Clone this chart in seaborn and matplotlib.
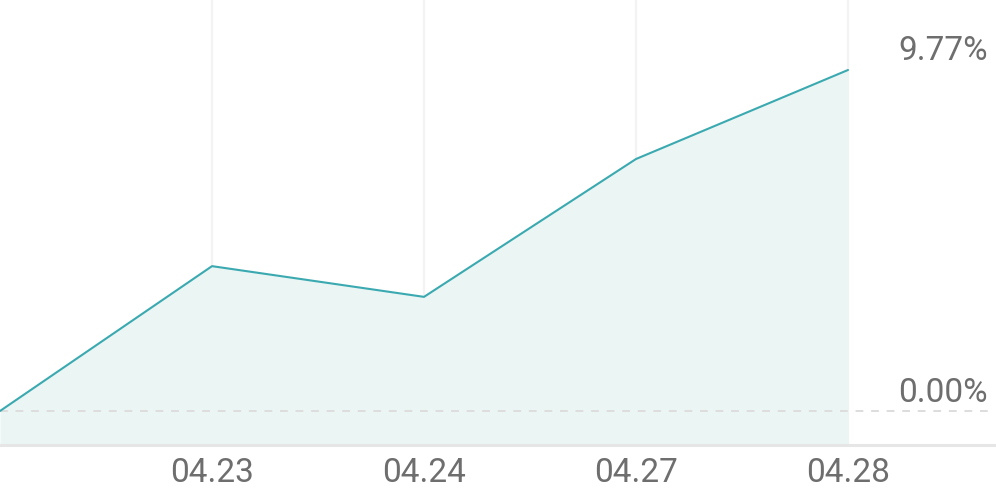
import matplotlib
matplotlib.use("Agg")
import matplotlib.pyplot as plt
import seaborn as sns
import pandas as pd
import numpy as np

dates = ["04.22", "04.23", "04.24", "04.27", "04.28"]
returns = [0.00, 4.15, 3.27, 7.22, 9.77]
tick_labels = ["04.23", "04.24", "04.27", "04.28"]
y_labels = ["9.77%", "0.00%"]

sns.set_theme(style="white")
plt.rcParams['font.family'] = ['Roboto', 'DejaVu Sans']

df = pd.DataFrame({"pos": np.arange(len(dates)), "date": dates, "ret": returns})

W, H = 996, 490
fig = plt.figure(figsize=(W / 100, H / 100), dpi=100)
ax = fig.add_axes([0, 0, 1, 1])

px_per_step = 212.0
px_per_pct = (411 - 70) / 9.77
ax.set_xlim(0, W / px_per_step)
ax.set_ylim(-(H - 411) / px_per_pct, 9.77 + 70 / px_per_pct)
base = -(445 - 411) / px_per_pct

# vertical grid lines
for p in df["pos"][1:]:
    ax.plot([p, p], [base, ax.get_ylim()[1]], color="#f3f3f3", lw=1.6, zorder=1)

ax.fill_between(df["pos"], df["ret"], base, color="#ebf5f4", zorder=2, lw=0)
sns.lineplot(data=df, x="pos", y="ret", ax=ax, color="#3aa9b0", lw=1.5, zorder=4)

# zero dashed line
ax.plot([0, 992 / px_per_step], [0, 0], color="#dddddd", lw=1.4,
        dashes=(4, 4), zorder=3)
# bottom axis line
ax.axhline(base, color="#e6e6e6", lw=2.2, zorder=5)

txt_color = "#6e6e6e"
fw = "normal"
for p, lab in zip(df["pos"][1:], tick_labels):
    ax.text(p, -(482 - 411) / px_per_pct, lab, ha="center", va="baseline",
            fontsize=24, color=txt_color, fontweight=fw)

ax.text(988 / px_per_step, 9.77 + (70 - 60) / px_per_pct, y_labels[0],
        ha="right", va="baseline", fontsize=24, color=txt_color, fontweight=fw)
ax.text(988 / px_per_step, (411 - 402) / px_per_pct, y_labels[1],
        ha="right", va="baseline", fontsize=24, color=txt_color, fontweight=fw)

ax.set_axis_off()
fig.savefig("out.png", dpi=100)
